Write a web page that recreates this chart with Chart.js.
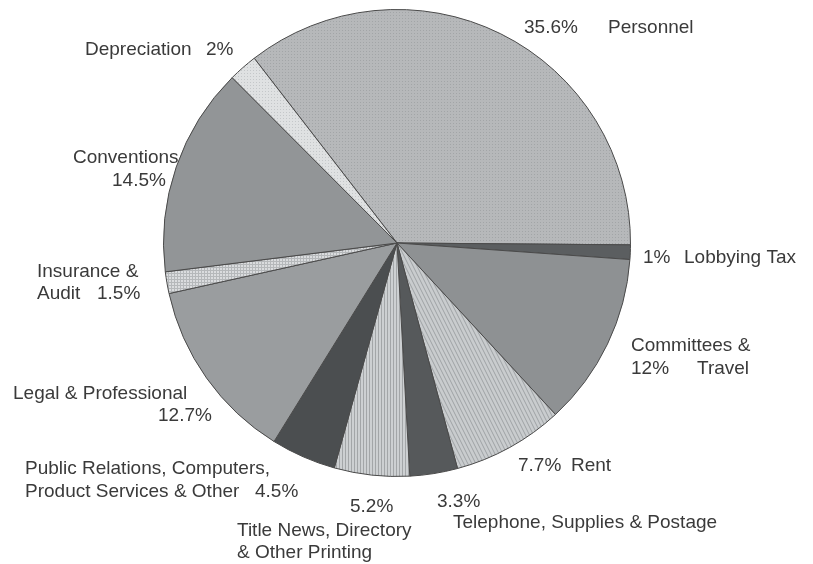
<!DOCTYPE html>
<html>
<head>
<meta charset="utf-8">
<script src="https://cdn.jsdelivr.net/npm/chart.js@4.4.0/dist/chart.umd.min.js"></script>
<style>
  html, body { margin: 0; padding: 0; background: #fff; }
  #wrap { width: 813px; height: 564px; }
</style>
</head>
<body>
<div id="wrap"><canvas id="budget"></canvas></div>
<script>
'use strict';

// expense shares, clockwise from Personnel
const categories = ['Personnel', 'Lobbying Tax', 'Committees & Travel', 'Rent',
    'Telephone, Supplies & Postage', 'Title News, Directory & Other Printing',
    'Public Relations, Computers, Product Services & Other', 'Legal & Professional',
    'Insurance & Audit', 'Conventions', 'Depreciation'];
const values = [35.6, 1, 12, 7.7, 3.3, 5.2, 4.5, 12.7, 1.5, 14.5, 2];

const pct = (i) => values[i] + '%';

// label pieces and where they go (left x, middle y)
const labelLayout = [
    { x: 524, y: 28, t: pct(0) }, { x: 608, y: 28, t: categories[0] },
    { x: 643, y: 258, t: pct(1) }, { x: 684, y: 258, t: categories[1] },
    { x: 631, y: 346, t: 'Committees &' }, { x: 631, y: 369, t: pct(2) }, { x: 697, y: 369, t: 'Travel' },
    { x: 518, y: 466, t: pct(3) }, { x: 571, y: 466, t: categories[3] },
    { x: 437, y: 502, t: pct(4) }, { x: 453, y: 523, t: categories[4] },
    { x: 350, y: 507, t: pct(5) }, { x: 237, y: 531, t: 'Title News, Directory' },
    { x: 237, y: 553, t: '& Other Printing' },
    { x: 25, y: 469, t: 'Public Relations, Computers,' }, { x: 25, y: 492, t: 'Product Services & Other' },
    { x: 255, y: 492, t: pct(6) },
    { x: 13, y: 394, t: categories[7] }, { x: 158, y: 416, t: pct(7) },
    { x: 37, y: 272, t: 'Insurance &' }, { x: 37, y: 294, t: 'Audit' }, { x: 97, y: 294, t: pct(8) },
    { x: 73, y: 158, t: categories[9] }, { x: 112, y: 181, t: pct(9) },
    { x: 85, y: 50, t: categories[10] }, { x: 206, y: 50, t: pct(10) }
];

function makePattern(w, h, base, ink, draw) {
    const c = document.createElement('canvas');
    c.width = w; c.height = h;
    const g = c.getContext('2d');
    g.fillStyle = base;
    g.fillRect(0, 0, w, h);
    g.fillStyle = ink;
    g.strokeStyle = ink;
    draw(g);
    return g.createPattern(c, 'repeat');
}

const ctx = document.getElementById('budget').getContext('2d');

const dots = makePattern(3, 3, '#b6b8ba', '#a2a5a7', g => { g.fillRect(0, 0, 1, 1); });
const fineDots = makePattern(3, 3, '#dfe1e2', '#c4c7c9', g => { g.fillRect(1, 1, 1, 1); });
const vStripes = makePattern(3, 3, '#cdd0d2', '#a3a6a8', g => { g.fillRect(0, 0, 1, 3); });
const grid = makePattern(3, 3, '#dadcde', '#b5b8ba', g => { g.fillRect(0, 0, 1, 3); g.fillRect(0, 0, 3, 1); });
const slant = makePattern(4, 8, '#c9ccce', '#9ea2a5', g => {
    g.lineWidth = 1;
    g.beginPath();
    g.moveTo(-1, -2); g.lineTo(5, 10);
    g.moveTo(-5, -2); g.lineTo(1, 10);
    g.moveTo(3, -2); g.lineTo(9, 10);
    g.stroke();
});

const fills = [dots, '#5b5e60', '#8e9193', slant, '#56595b', vStripes,
    '#4b4e50', '#9a9d9f', grid, '#929597', fineDots];

const outsideLabels = {
    id: 'outsideLabels',
    afterDraw(chart) {
        const g = chart.ctx;
        g.save();
        g.font = '19px "Liberation Sans", Arial, sans-serif';
        g.fillStyle = '#3a3a3a';
        g.textAlign = 'left';
        g.textBaseline = 'middle';
        labelLayout.forEach(l => g.fillText(l.t, l.x, l.y));
        g.restore();
    }
};

new Chart(ctx, {
    type: 'pie',
    data: {
        labels: categories,
        datasets: [{
            data: values,
            backgroundColor: fills,
            borderColor: '#4a4a4a',
            borderWidth: 1
        }]
    },
    options: {
        responsive: true,
        maintainAspectRatio: false,
        animation: false,
        rotation: -37.7,
        layout: { padding: { left: 163, right: 182, top: 9, bottom: 87 } },
        plugins: {
            legend: { display: false },
            tooltip: { enabled: false }
        }
    },
    plugins: [outsideLabels]
});
</script>
</body>
</html>
